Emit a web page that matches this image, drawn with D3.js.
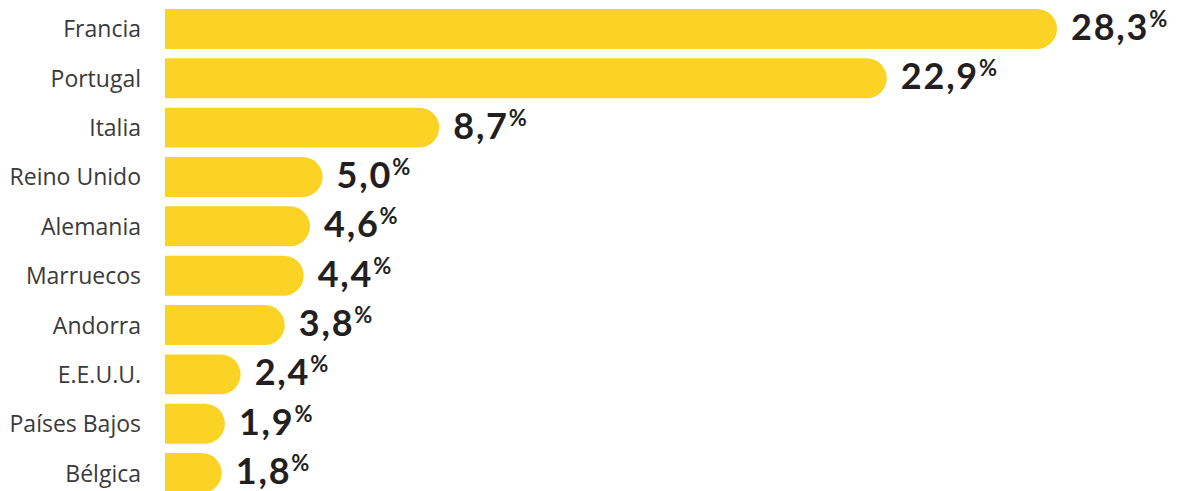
<!DOCTYPE html>
<html>
<head>
<meta charset="utf-8">
<script src="https://cdn.jsdelivr.net/npm/d3@7"></script>
<style>
  html, body { margin: 0; padding: 0; background: #fff; }
  svg { display: block; }
</style>
</head>
<body>
<svg id="chart" width="1183" height="491"></svg>
<script>
// Share by country (%)
const countries = ["Francia", "Portugal", "Italia", "Reino Unido", "Alemania",
                   "Marruecos", "Andorra", "E.E.U.U.", "Países Bajos", "Bélgica"];
const shares = [28.3, 22.9, 8.7, 5.0, 4.6, 4.4, 3.8, 2.4, 1.9, 1.8];
const shareLabels = ["28,3", "22,9", "8,7", "5,0", "4,6", "4,4", "3,8", "2,4", "1,9", "1,8"];

const data = countries.map((c, i) => ({ country: c, value: shares[i], label: shareLabels[i] }));

const svg = d3.select("#chart");
const barColor = "#FBD325";

const x = d3.scaleLinear().domain([0, 28.3]).range([165, 1057]);
const y = d3.scaleBand().domain(countries).range([4, 498]).paddingInner(0.19).paddingOuter(0.1);

const bh = y.bandwidth();
const r = bh / 2;

// bar with a square left edge and a fully rounded right end
function barPath(d) {
  const x0 = x(0), x1 = x(d.value), y0 = y(d.country);
  const rr = Math.min(r, x1 - x0);
  return `M${x0},${y0}H${x1 - rr}A${rr},${r} 0 0 1 ${x1 - rr},${y0 + bh}H${x0}Z`;
}

svg.append("g").selectAll("path")
  .data(data).join("path")
  .attr("d", barPath)
  .attr("fill", barColor);

// category labels
svg.append("g").selectAll("text")
  .data(data).join("text")
  .attr("x", 141)
  .attr("y", d => y(d.country) + bh / 2 + 8.5)
  .attr("text-anchor", "end")
  .attr("font-family", "'Open Sans', sans-serif")
  .attr("font-size", 23)
  .attr("fill", "#3a3a3a")
  .text(d => d.country);

// value labels with superscript percent sign
const vals = svg.append("g").selectAll("text")
  .data(data).join("text")
  .attr("x", d => x(d.value) + 14)
  .attr("y", d => y(d.country) + bh / 2 + 11)
  .attr("font-family", "Lato, sans-serif")
  .attr("font-weight", 700)
  .attr("fill", "#231f20");

vals.append("tspan")
  .attr("font-size", 36)
  .attr("letter-spacing", 1.8)
  .text(d => d.label);

vals.append("tspan")
  .attr("font-size", 22)
  .attr("dy", -13)
  .attr("dx", 0)
  .text("%");
</script>
</body>
</html>
